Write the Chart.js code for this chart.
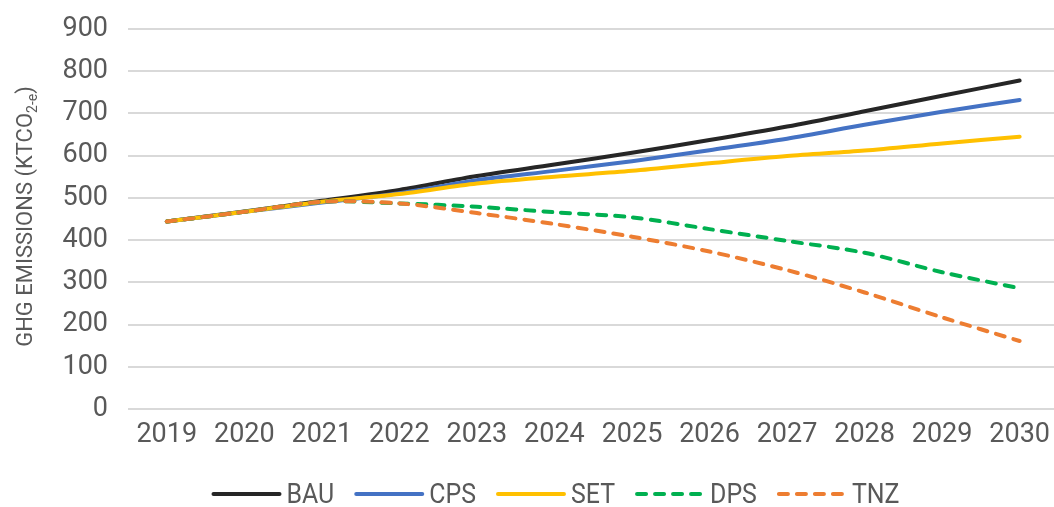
<!DOCTYPE html>
<html>
<head>
<meta charset="utf-8">
<script src="https://cdn.jsdelivr.net/npm/chart.js@4.4.1/dist/chart.umd.min.js"></script>
<style>
  html, body { margin: 0; padding: 0; background: #ffffff; overflow: hidden; }
  #wrap { position: relative; width: 1060px; height: 507px; }
</style>
</head>
<body>
<div id="wrap"><canvas id="ghg-chart"></canvas></div>
<script>
// Yıllar ve senaryo verileri (ktCO2-e)
const years = ['2019', '2020', '2021', '2022', '2023', '2024', '2025', '2026', '2027', '2028', '2029', '2030'];
const bau = [444, 468, 493, 519, 552, 579, 607, 637, 669, 705, 742, 778];
const cps = [444, 467, 489, 511, 542, 564, 587, 613, 640, 673, 704, 732];
const set = [444, 467, 491, 509, 534, 550, 564, 582, 599, 612, 629, 645];
const dps = [444, 467, 491, 487, 479, 466, 454, 426, 398, 370, 324, 286];
const tnz = [444, 467, 491, 487, 464, 438, 408, 373, 329, 276, 217, 161];
const yTicks = [0, 100, 200, 300, 400, 500, 600, 700, 800, 900];

const FONT = "Roboto, 'Noto Sans', sans-serif";
const TEXT_COLOR = '#595959';
const SQUEEZE = 0.89; // dar yazı tipi görünümü için yatay sıkıştırma

function lineSet(label, data, color, dashed, order) {
    return {
        label: label,
        data: data,
        borderColor: color,
        backgroundColor: color,
        borderWidth: 4,
        borderDash: dashed ? [9, 9] : [],
        borderCapStyle: 'round',
        borderJoinStyle: 'round',
        pointRadius: 0,
        pointHoverRadius: 0,
        tension: 0.3,
        fill: false,
        order: order
    };
}

// Y ekseni başlığı (alt simge ile)
const yTitlePlugin = {
    id: 'yTitle',
    afterDraw(chart) {
        const ctx = chart.ctx;
        const parts = [
            { t: 'GHG EMISSIONS (KTCO', size: 22, dy: 0 },
            { t: '2-e', size: 14, dy: 5 },
            { t: ')', size: 22, dy: 0 }
        ];
        ctx.save();
        ctx.fillStyle = TEXT_COLOR;
        ctx.textBaseline = 'alphabetic';
        let total = 0;
        parts.forEach(p => {
            ctx.font = p.size + 'px ' + FONT;
            p.w = ctx.measureText(p.t).width;
            total += p.w;
        });
        ctx.translate(31.5, 216.5);
        ctx.rotate(-Math.PI / 2);
        let x = -total / 2;
        parts.forEach(p => {
            ctx.font = p.size + 'px ' + FONT;
            ctx.fillText(p.t, x, p.dy);
            x += p.w;
        });
        ctx.restore();
    }
};

// Alt lejant - çizgi örnekleri ve etiketler
const legendPlugin = {
    id: 'bottomLegend',
    afterDraw(chart) {
        const ctx = chart.ctx;
        const lineLen = 66;
        const lineY = 494;
        ctx.save();
        ctx.font = '28px ' + FONT;
        ctx.textBaseline = 'alphabetic';
        let x = 213.5;
        chart.data.datasets.forEach(function(ds) {
            ctx.strokeStyle = ds.borderColor;
            ctx.lineWidth = ds.borderWidth;
            ctx.lineCap = 'round';
            ctx.setLineDash(ds.borderDash);
            ctx.beginPath();
            ctx.moveTo(x, lineY);
            ctx.lineTo(x + lineLen, lineY);
            ctx.stroke();
            x += lineLen + 2 + 5;
            const w = ctx.measureText(ds.label).width * SQUEEZE;
            ctx.save();
            ctx.translate(x, 503);
            ctx.scale(SQUEEZE, 1);
            ctx.fillStyle = TEXT_COLOR;
            ctx.fillText(ds.label, 0, 0);
            ctx.restore();
            x += w + 20 + 2;
        });
        ctx.restore();
    }
};

new Chart(document.getElementById('ghg-chart'), {
    type: 'line',
    data: {
        labels: years,
        datasets: [
            lineSet('BAU', bau, '#262626', false, 5),
            lineSet('CPS', cps, '#4472C4', false, 4),
            lineSet('SET', set, '#FFC000', false, 3),
            lineSet('DPS', dps, '#00B050', true, 2),
            lineSet('TNZ', tnz, '#ED7D31', true, 1)
        ]
    },
    options: {
        responsive: true,
        maintainAspectRatio: false,
        animation: false,
        layout: {
            padding: { top: 29, right: 0, bottom: 54, left: 0 }
        },
        plugins: {
            legend: { display: false },
            title: { display: false },
            tooltip: { enabled: false }
        },
        scales: {
            x: {
                offset: true,
                afterFit(scale) { scale.height = 44; },
                grid: { display: false, drawTicks: false },
                border: { display: false },
                ticks: {
                    color: TEXT_COLOR,
                    font: { family: FONT, size: 27 },
                    padding: 10,
                    maxRotation: 0,
                    autoSkip: false
                }
            },
            y: {
                min: 0,
                max: 900,
                afterFit(scale) {
                    scale.width = 128;
                    scale.paddingTop = 0;
                    scale.paddingBottom = 0;
                },
                afterBuildTicks(scale) { scale.ticks = yTicks.map(v => ({ value: v })); },
                grid: { color: '#d9d9d9', lineWidth: 2, drawTicks: false },
                border: { display: false },
                ticks: {
                    color: TEXT_COLOR,
                    font: { family: FONT, size: 27 },
                    padding: 20
                }
            }
        }
    },
    plugins: [yTitlePlugin, legendPlugin]
});
</script>
</body>
</html>
